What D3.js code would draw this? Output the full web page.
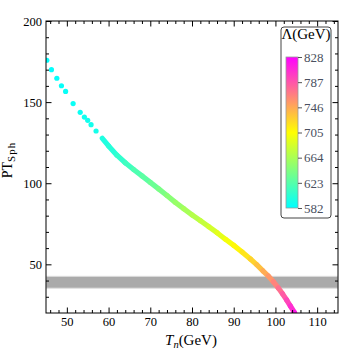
<!DOCTYPE html>
<html>
<head>
<meta charset="utf-8">
<script src="https://cdn.jsdelivr.net/npm/d3@7"></script>
<style>
  body { margin: 0; background: #fff; }
  svg { display: block; }
  text { font-family: "Liberation Serif", "Times New Roman", serif; }
</style>
</head>
<body>
<svg id="chart" width="360" height="355"></svg>
<script>
// sparse points at low T_n (separate dots)
const sparseTn = [45.2, 46.3, 47.6, 48.7, 49.7, 51.5, 53.2, 54.2, 55.0, 55.8, 57.0];
const sparsePt = [175.8, 170.0, 164.7, 160.1, 156.6, 149.1, 143.7, 140.8, 138.8, 136.1, 132.2];
const sparseLam = [582, 583, 584, 585, 586, 587, 588, 589, 590, 591, 592];

// dense part of the scan (looks continuous)
const trailTn = [58.5, 60, 62, 64, 66, 68, 70, 72, 74, 76, 78, 80, 82, 84, 86, 88, 90, 92, 94,
  95.5, 97, 98.3, 99.5, 100.7, 101.7, 102.7, 103.6, 104.5, 105.3];
const trailPt = [127.7, 123.0, 117.3, 112.6, 108.5, 104.5, 100.5, 96.5, 92.4, 88.2, 84.3, 80.5,
  76.9, 73.3, 69.5, 65.5, 61.7, 57.6, 53.3, 49.8, 46.0, 42.8, 39.3, 35.4, 31.8, 28.0, 24.3, 20.5, 16.5];
const trailLam = [595, 598, 603, 609, 616, 623, 630, 637, 645, 652, 659, 666, 673, 680, 688, 696,
  704, 713, 722, 730, 740, 750, 760, 770, 779, 789, 800, 812, 825];

// grey band
const bandLow = 35.3;
const bandHigh = 42.6;

const xTicks = [50, 60, 70, 80, 90, 100, 110];
const yTicks = [50, 100, 150, 200];
const lamTicks = [582, 623, 664, 705, 746, 787, 828];

const svg = d3.select('#chart');
const box = { left: 46, right: 338, top: 21, bottom: 313 };

let x = d3.scaleLinear().domain([45, 115]).range([box.left, box.right]);
let y = d3.scaleLinear().domain([20, 200]).range([box.bottom, box.top]);
let color = d3.scaleLinear().domain([582, 705, 828]).range(['#00ffff', '#ffff00', '#ff00ff']);

const defs = svg.append('defs');
defs.append('clipPath').attr('id', 'plotclip')
  .append('rect').attr('x', box.left).attr('y', box.top)
  .attr('width', box.right - box.left).attr('height', box.bottom - box.top);

const plot = svg.append('g').attr('clip-path', 'url(#plotclip)');

// band
plot.append('rect')
  .attr('x', box.left)
  .attr('width', box.right - box.left)
  .attr('y', y(bandHigh))
  .attr('height', y(bandLow) - y(bandHigh))
  .attr('fill', '#aaaaaa')
  .attr('stroke', '#dcdcdc')
  .attr('stroke-width', 1);

// dense trail, one segment per pair of points
let trail = trailTn.map((t, i) => ({ t: t, p: trailPt[i], l: trailLam[i] }));
let line = d3.line().x((d) => x(d.t)).y((d) => y(d.p));
for (let i = 0; i < trail.length - 1; i++) {
  plot.append('path')
    .attr('d', line([trail[i], trail[i + 1]]))
    .attr('stroke', color((trail[i].l + trail[i + 1].l) / 2))
    .attr('stroke-width', 5.2)
    .attr('stroke-linecap', 'round')
    .attr('fill', 'none');
}

// sparse dots
plot.selectAll('circle.dot')
  .data(sparseTn.map((t, i) => ({ t: t, p: sparsePt[i], l: sparseLam[i] })))
  .join('circle')
  .attr('class', 'dot')
  .attr('cx', (d) => x(d.t))
  .attr('cy', (d) => y(d.p))
  .attr('r', 2.6)
  .attr('fill', (d) => color(d.l));

// frame
svg.append('rect')
  .attr('x', box.left).attr('y', box.top)
  .attr('width', box.right - box.left).attr('height', box.bottom - box.top)
  .attr('fill', 'none').attr('stroke', '#000').attr('stroke-width', 1);

// axes: ticks point inward, minor ticks separately
const xMinor = d3.range(46, 115, 2).filter((v) => v % 10 !== 0);
const yMinor = d3.range(30, 200, 10).filter((v) => v % 50 !== 0);

function addAxis(axisFn, scale, major, minor, transform, labels) {
  let g = svg.append('g').attr('transform', transform);
  g.call(axisFn(scale).tickValues(major).tickSize(-5.5).tickPadding(4)
    .tickFormat(labels ? d3.format('d') : ''));
  g.select('.domain').remove();
  g.selectAll('text').attr('font-size', 12.5).attr('fill', '#000');
  let m = svg.append('g').attr('transform', transform);
  m.call(axisFn(scale).tickValues(minor).tickSize(-3).tickFormat(''));
  m.select('.domain').remove();
}

addAxis(d3.axisBottom, x, xTicks, xMinor, `translate(0,${box.bottom})`, true);
addAxis(d3.axisTop, x, xTicks, xMinor, `translate(0,${box.top})`, false);
addAxis(d3.axisLeft, y, yTicks, yMinor, `translate(${box.left},0)`, true);
addAxis(d3.axisRight, y, yTicks, yMinor, `translate(${box.right},0)`, false);

// axis labels
let xl = svg.append('text').attr('x', 191).attr('y', 345).attr('text-anchor', 'middle')
  .attr('font-size', 15);
xl.append('tspan').attr('font-style', 'italic').text('T');
xl.append('tspan').attr('font-style', 'italic').attr('font-size', 10.5).attr('dy', 3).text('n');
xl.append('tspan').attr('dy', -3).text('(GeV)');

let yl = svg.append('text').attr('transform', 'translate(12,160) rotate(-90)')
  .attr('text-anchor', 'middle').attr('font-size', 14);
yl.append('tspan').text('PT');
yl.append('tspan').attr('font-size', 11).attr('dy', 3).attr('letter-spacing', 1).text('Sph');

// legend
const lg = svg.append('g');
lg.append('rect')
  .attr('x', 281).attr('y', 27).attr('width', 50).attr('height', 191)
  .attr('rx', 3)
  .attr('fill', '#fff').attr('stroke', '#444').attr('stroke-width', 1);
lg.append('text').attr('x', 306).attr('y', 39).attr('text-anchor', 'middle')
  .attr('font-size', 15).text('Λ(GeV)');

let cb = d3.scaleLinear().domain([582, 828]).range([208, 57]);
let grad = defs.append('linearGradient').attr('id', 'lamgrad')
  .attr('x1', 0).attr('y1', 1).attr('x2', 0).attr('y2', 0);
[582, 705, 828].forEach((v) => {
  grad.append('stop').attr('offset', (v - 582) / (828 - 582)).attr('stop-color', color(v));
});
lg.append('rect')
  .attr('x', 286).attr('y', cb(828)).attr('width', 12).attr('height', cb(582) - cb(828))
  .attr('fill', 'url(#lamgrad)').attr('stroke', '#999').attr('stroke-width', 0.8);

let cbAxis = lg.append('g').attr('transform', 'translate(298,0)')
  .call(d3.axisRight(cb).tickValues(lamTicks).tickSize(4).tickPadding(2));
cbAxis.select('.domain').remove();
cbAxis.selectAll('line').attr('stroke', '#555');
cbAxis.selectAll('text').attr('font-size', 13).attr('fill', '#4a5060');
</script>
</body>
</html>
